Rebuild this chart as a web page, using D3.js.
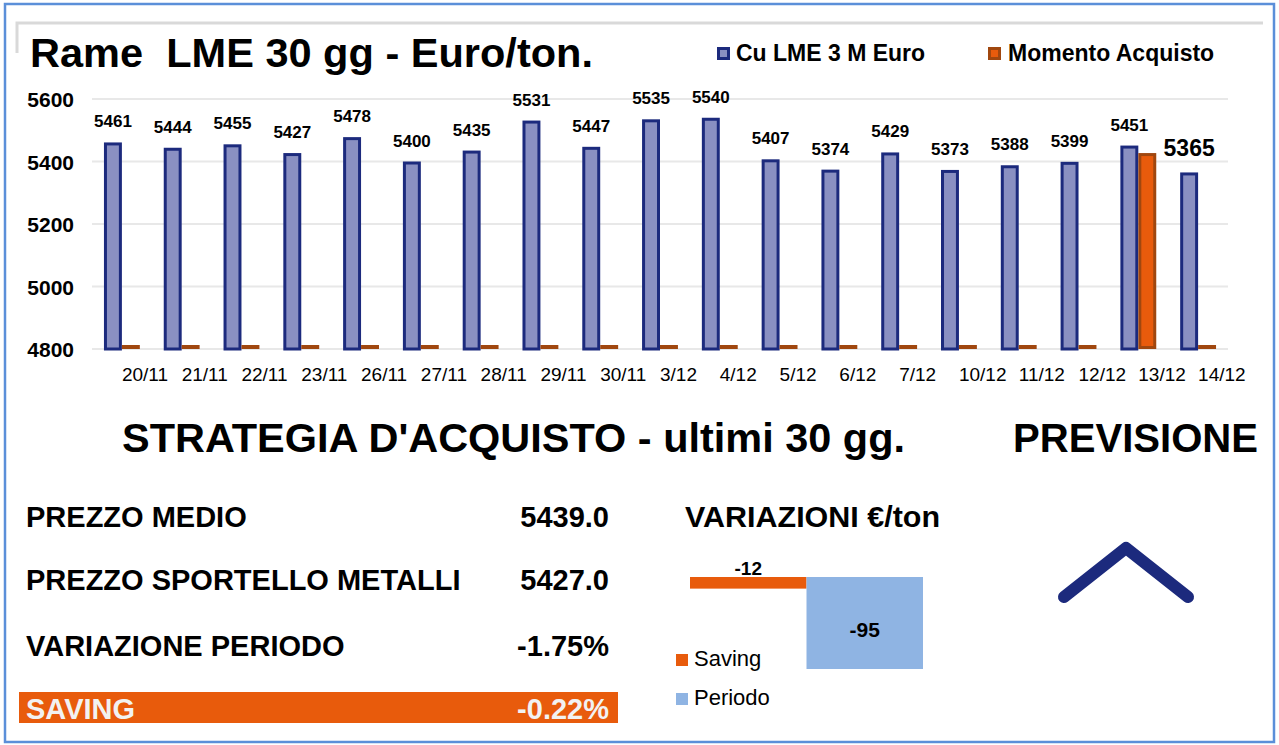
<!DOCTYPE html>
<html>
<head>
<meta charset="utf-8">
<script src="https://cdn.jsdelivr.net/npm/d3@7"></script>
<style>
  body { margin: 0; background: #fff; }
  svg text { font-family: "Liberation Sans", Arial, sans-serif; white-space: pre; }
</style>
</head>
<body>
<div id="chart"></div>
<script>
// data
var dates = ["20/11", "21/11", "22/11", "23/11", "26/11", "27/11", "28/11", "29/11", "30/11",
    "3/12", "4/12", "5/12", "6/12", "7/12", "10/12", "11/12", "12/12", "13/12", "14/12"];
var cuValues = [5461, 5444, 5455, 5427, 5478, 5400, 5435, 5531, 5447,
    5535, 5540, 5407, 5374, 5429, 5373, 5388, 5399, 5451, 5365];
var momentoValues = [0, 0, 0, 0, 0, 0, 0, 0, 0,
    0, 0, 0, 0, 0, 0, 0, 0, 5427, 0];
var yTicks = [4800, 5000, 5200, 5400, 5600];
var seriesNames = ["Cu LME 3 M Euro", "Momento Acquisto"];

var summaryLabels = ["PREZZO MEDIO", "PREZZO SPORTELLO METALLI", "VARIAZIONE PERIODO", "SAVING"];
var summaryValues = ["5439.0", "5427.0", "-1.75%", "-0.22%"];

var varCategories = ["Saving", "Periodo"];
var varValues = [-12, -95];

function init() {
    var w = 1279, h = 745;
    var navy = "#1c2a7d", lav = "#8a90c2", orange = "#e85b0c", brown = "#a0470f";

    var svg = d3.select("#chart").append("svg")
        .attr("width", w)
        .attr("height", h);

    // outer frame
    svg.append("rect")
        .attr("x", 5).attr("y", 4).attr("width", 1269).attr("height", 738)
        .attr("fill", "none").attr("stroke", "#5b8fd9").attr("stroke-width", 2.5);
    svg.append("path")
        .attr("d", "M17,53V23H1263")
        .attr("fill", "none").attr("stroke", "#d9d9d9").attr("stroke-width", 3);

    // title
    svg.append("text")
        .attr("x", 30).attr("y", 67)
        .attr("font-size", 41).attr("font-weight", "bold")
        .attr("textLength", 563).attr("lengthAdjust", "spacingAndGlyphs")
        .text("Rame  LME 30 gg - Euro/ton.");

    // legend
    var legX = [717, 988];
    var legend = svg.selectAll("g.leg")
        .data(seriesNames)
        .enter().append("g")
        .attr("class", "leg")
        .attr("transform", function (d, i) { return "translate(" + legX[i] + ",0)"; });
    legend.append("rect")
        .attr("x", 1.5).attr("y", 48.5).attr("width", 10).attr("height", 10)
        .attr("fill", function (d, i) { return i ? orange : lav; })
        .attr("stroke", function (d, i) { return i ? brown : navy; })
        .attr("stroke-width", 3);
    legend.append("text")
        .attr("x", function (d, i) { return i ? 20 : 19; }).attr("y", 61)
        .attr("font-size", 23).attr("font-weight", "bold")
        .text(function (d) { return d; });

    // bar chart
    var x0 = d3.scaleBand().domain(dates).range([92, 1228]).paddingInner(0.4).paddingOuter(0.2);
    var x1 = d3.scaleBand().domain(["cu", "mo"]).range([0, x0.bandwidth()]);
    var y = d3.scaleLinear().domain([4800, 5600]).range([349, 99]).clamp(true);

    svg.append("g").selectAll("line")
        .data(yTicks)
        .enter().append("line")
        .attr("x1", 92).attr("x2", 1228)
        .attr("y1", function (d) { return y(d); })
        .attr("y2", function (d) { return y(d); })
        .attr("stroke", "#e8e8e8").attr("stroke-width", 2);

    var yAxis = svg.append("g")
        .attr("transform", "translate(74,0)")
        .call(d3.axisLeft(y).tickValues(yTicks).tickFormat(d3.format("d")).tickSize(0).tickPadding(0));
    yAxis.select(".domain").remove();
    yAxis.selectAll("text")
        .attr("font-size", 21).attr("font-weight", "bold")
        .attr("font-family", "Liberation Sans, Arial, sans-serif")
        .attr("fill", "#000").attr("dy", "0.36em");

    var rows = dates.map(function (d, i) {
        return { date: d, cu: cuValues[i], mo: momentoValues[i] };
    });
    var groups = svg.append("g").selectAll("g")
        .data(rows)
        .enter().append("g")
        .attr("transform", function (d) { return "translate(" + x0(d.date) + ",0)"; });

    var sw = 3;
    groups.append("rect")
        .attr("x", x1("cu") + sw / 2)
        .attr("width", x1.bandwidth() - sw)
        .attr("y", function (d) { return y(d.cu) + sw / 2; })
        .attr("height", function (d) { return y(4800) - y(d.cu) - sw / 2; })
        .attr("fill", lav).attr("stroke", navy).attr("stroke-width", sw);

    // zero values still show as a small stub on the baseline
    groups.append("rect")
        .attr("x", x1("mo") + sw / 2)
        .attr("width", x1.bandwidth() - sw)
        .attr("y", function (d) { return Math.min(y(d.mo) + sw / 2, y(4800) - sw / 2 - 1); })
        .attr("height", function (d) { return Math.max(1, y(4800) - y(d.mo) - sw); })
        .attr("fill", orange).attr("stroke", brown).attr("stroke-width", sw);

    groups.append("text")
        .attr("x", x1("cu") + x1.bandwidth() / 2)
        .attr("y", function (d, i) { return y(d.cu) - (i === dates.length - 1 ? 16 : 15); })
        .attr("text-anchor", "middle")
        .attr("font-size", function (d, i) { return i === dates.length - 1 ? 23 : 17; })
        .attr("font-weight", "bold")
        .text(function (d) { return d.cu; });

    groups.append("text")
        .attr("x", x0.bandwidth() / 2)
        .attr("y", 381)
        .attr("font-size", 19)
        .text(function (d) { return d.date; });

    // lower section
    svg.append("text")
        .attr("x", 122).attr("y", 452)
        .attr("font-size", 41).attr("font-weight", "bold")
        .attr("textLength", 783).attr("lengthAdjust", "spacingAndGlyphs")
        .text("STRATEGIA D'ACQUISTO - ultimi 30 gg.");
    svg.append("text")
        .attr("x", 1013).attr("y", 452)
        .attr("font-size", 40).attr("font-weight", "bold")
        .attr("textLength", 245).attr("lengthAdjust", "spacingAndGlyphs")
        .text("PREVISIONE");

    var rowY = [527, 590, 656, 719];
    svg.append("rect")
        .attr("x", 19).attr("y", 692).attr("width", 599).attr("height", 31)
        .attr("fill", orange);
    var sum = svg.append("g").selectAll("g")
        .data(summaryLabels)
        .enter().append("g");
    sum.append("text")
        .attr("x", 26).attr("y", function (d, i) { return rowY[i]; })
        .attr("font-size", 29).attr("font-weight", "bold")
        .attr("fill", function (d, i) { return i === 3 ? "#f2f2f2" : "#000"; })
        .text(function (d) { return d; });
    sum.append("text")
        .attr("x", 609).attr("y", function (d, i) { return rowY[i]; })
        .attr("text-anchor", "end")
        .attr("font-size", 29).attr("font-weight", "bold")
        .attr("fill", function (d, i) { return i === 3 ? "#f2f2f2" : "#000"; })
        .text(function (d, i) { return summaryValues[i]; });

    // variazioni chart
    svg.append("text")
        .attr("x", 685).attr("y", 527)
        .attr("font-size", 29).attr("font-weight", "bold")
        .attr("textLength", 255).attr("lengthAdjust", "spacingAndGlyphs")
        .text("VARIAZIONI €/ton");

    var vx = d3.scaleBand().domain(varCategories).range([690, 923]);
    var vy = d3.scaleLinear().domain([0, -95]).range([577, 669]);
    var vColors = d3.scaleOrdinal().domain(varCategories).range([orange, "#8fb4e3"]);

    svg.append("g").selectAll("rect")
        .data(varCategories)
        .enter().append("rect")
        .attr("x", function (d) { return vx(d); })
        .attr("width", vx.bandwidth())
        .attr("y", vy(0))
        .attr("height", function (d, i) { return vy(varValues[i]) - vy(0); })
        .attr("fill", function (d) { return vColors(d); });

    svg.append("text")
        .attr("x", vx("Saving") + vx.bandwidth() / 2).attr("y", 575)
        .attr("text-anchor", "middle")
        .attr("font-size", 19).attr("font-weight", "bold")
        .text(varValues[0]);
    svg.append("text")
        .attr("x", vx("Periodo") + vx.bandwidth() / 2).attr("y", 637)
        .attr("text-anchor", "middle")
        .attr("font-size", 21).attr("font-weight", "bold")
        .text(varValues[1]);

    var vLegY = [666, 705];
    var vLeg = svg.append("g").selectAll("g")
        .data(varCategories)
        .enter().append("g");
    vLeg.append("rect")
        .attr("x", 676).attr("y", function (d, i) { return vLegY[i] - 12; })
        .attr("width", 12).attr("height", 12)
        .attr("fill", function (d) { return vColors(d); });
    vLeg.append("text")
        .attr("x", 694).attr("y", function (d, i) { return vLegY[i]; })
        .attr("font-size", 22)
        .text(function (d) { return d; });

    // previsione arrow
    svg.append("path")
        .attr("d", d3.line()([[1064, 597], [1126, 548], [1188, 597]]))
        .attr("fill", "none").attr("stroke", navy)
        .attr("stroke-width", 12)
        .attr("stroke-linecap", "round").attr("stroke-linejoin", "round");
}
init();
</script>
</body>
</html>
